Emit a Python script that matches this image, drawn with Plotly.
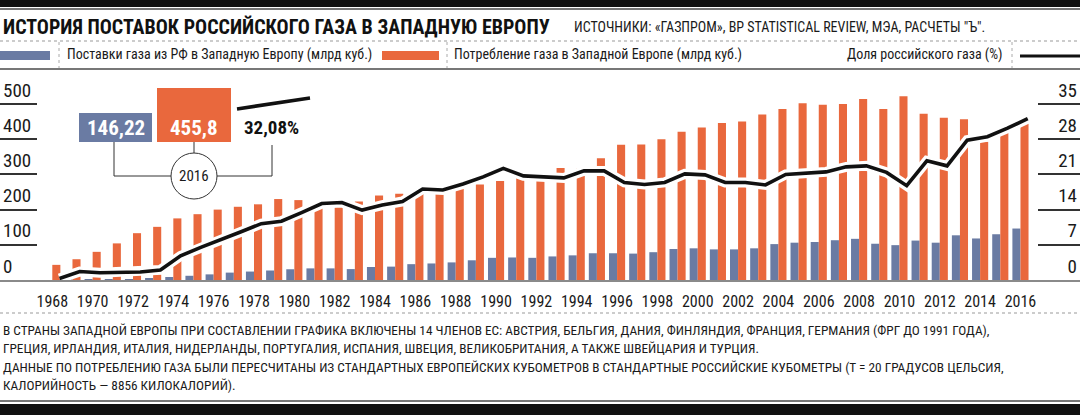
# Russian gas supplies to Western Europe, 1968-2016
import plotly.graph_objects as go

years = list(range(1968, 2017))

# supplies from Russia to Western Europe, bcm (blue bars)
supply = [0, 0.5, 1.2, 1.7, 2.1, 3, 8.5, 12, 16, 21,
          24, 27, 30.5, 33, 33, 31, 37, 38, 45, 47,
          50, 56, 63, 64, 63, 67, 70, 76, 76, 75,
          79, 88, 90, 87, 87, 90, 102, 106, 108, 113,
          117, 103, 99, 112, 106, 127, 118, 130, 146.22]

# gas consumption in Western Europe, bcm (orange bars)
consumption = [43, 59, 80, 104, 133, 151, 175, 187, 200, 208,
               215, 230, 227, 212, 212, 223, 240, 245, 244, 250,
               259, 271, 281, 295, 292, 318, 318, 346, 384, 385,
               400, 421, 433, 446, 450, 470, 486, 502, 498, 500,
               514, 486, 522, 472, 461, 457, 393, 418, 445]

# share of Russian gas, % (black line)
share = [0.3, 1.7, 1.45, 1.6, 1.6, 2.0, 4.8, 6.5, 8.0, 9.6,
         11.2, 11.7, 13.4, 15.2, 15.4, 13.9, 14.9, 15.6, 18.1, 17.9,
         19.1, 20.5, 22.2, 20.7, 20.5, 20.3, 21.7, 21.7, 19.4, 19.0,
         19.4, 21.1, 20.9, 19.4, 19.4, 18.9, 21.0, 21.3, 21.5, 22.5,
         22.7, 21.4, 18.75, 23.7, 22.7, 27.8, 28.5, 30.2, 32.08]

left_ticks = [0, 100, 200, 300, 400, 500]
right_ticks = [0, 7, 14, 21, 28, 35]
x_ticks = list(range(1968, 2017, 2))

# numbers printed in the 2016 callout
callout_year = "2016"
callout_supply = 146.22
callout_consumption = 455.8
callout_share = 32.08

BLUE = "#6a7ba3"
ORANGE = "#e9683d"
FONT = "Liberation Sans Narrow, Roboto Condensed, DejaVu Sans Condensed, Arial Narrow, sans-serif"
W, H = 1080, 415

# plot area in pixels
PLOT_TOP, PLOT_BOTTOM = 70, 280
PX_PER_UNIT = 176 / 500          # left axis: 500 bcm = 176 px
PX_PER_YEAR = 20.17
FIRST_YEAR_PX = 52.3
LINE_SHIFT = 0.36                # line vertices sit on the right edge of the orange bar

y_max = (PLOT_BOTTOM - PLOT_TOP) / PX_PER_UNIT
x_lo = years[0] - FIRST_YEAR_PX / PX_PER_YEAR
x_hi = x_lo + W / PX_PER_YEAR


def px(x):
    return x / W


def py(y):
    return 1 - y / H


def comma(v):
    return f"{v}".replace(".", ",")


fig = go.Figure()
fig.add_trace(go.Bar(x=years, y=supply, marker_color=BLUE, marker_line_width=0))
fig.add_trace(go.Bar(x=years, y=consumption, marker_color=ORANGE, marker_line_width=0))
line_x = [y + LINE_SHIFT for y in years]
fig.add_trace(go.Scatter(x=line_x, y=share, yaxis="y2", mode="lines",
                         line=dict(color="white", width=10)))
fig.add_trace(go.Scatter(x=line_x, y=share, yaxis="y2", mode="lines",
                         line=dict(color="#111111", width=3.6)))

shapes = []
annotations = []


def hline(y, x0=0, x1=W, color="#888888", width=1, dash="solid"):
    shapes.append(dict(type="line", xref="paper", yref="paper",
                       x0=px(x0), x1=px(x1), y0=py(y), y1=py(y),
                       line=dict(color=color, width=width, dash=dash)))


def vline(x, y0, y1, color="#888888", width=1, dash="solid"):
    shapes.append(dict(type="line", xref="paper", yref="paper",
                       x0=px(x), x1=px(x), y0=py(y0), y1=py(y1),
                       line=dict(color=color, width=width, dash=dash)))


def rect(x0, y0, x1, y1, color, line_color=None):
    shapes.append(dict(type="rect", xref="paper", yref="paper",
                       x0=px(x0), x1=px(x1), y0=py(y0), y1=py(y1),
                       fillcolor=color, line=dict(width=0 if line_color is None else 1,
                                                  color=line_color or color)))


def text(x, y, s, size=13, color="#1a1a1a", anchor="left", bold=False):
    if bold:
        s = f"<b>{s}</b>"
    annotations.append(dict(x=px(x), y=py(y), xref="paper", yref="paper", text=s,
                            showarrow=False, xanchor=anchor, yanchor="middle",
                            font=dict(family=FONT, size=size, color=color)))


# frame: black bands and rules
rect(0, 0, W, 7, "#111111")
hline(9, color="#777777", width=2)
text(1, 27, "ИСТОРИЯ ПОСТАВОК РОССИЙСКОГО ГАЗА В ЗАПАДНУЮ ЕВРОПУ", size=20, bold=True, color="#111111")
text(572, 27, "ИСТОЧНИКИ: «ГАЗПРОМ», BP STATISTICAL REVIEW, МЭА, РАСЧЕТЫ \"Ъ\".", size=14)
hline(41, color="#999999", dash="dot")
hline(69, color="#777777", width=2)

# legend row
rect(0, 51, 50, 60, BLUE)
vline(59, 42, 68, color="#aaaaaa", dash="dot")
text(65, 55, "Поставки газа из РФ в Западную Европу (млрд куб.)", size=14)
rect(382, 51, 439, 60, ORANGE)
vline(447, 42, 68, color="#aaaaaa", dash="dot")
text(452, 55, "Потребление газа в Западной Европе (млрд куб.)", size=14)
text(1005, 55, "Доля российского газа (%)", size=14, anchor="right")
vline(1012, 42, 68, color="#aaaaaa", dash="dot")
hline(56, 1020, W, color="#111111", width=3)

# 2016 callout
vline(114, 142, 176, color="#333333")
hline(176, 114, 171, color="#333333")
vline(194, 142, 153, color="#333333")
vline(272, 145, 176, color="#333333")
hline(176, 217, 272, color="#333333")
shapes.append(dict(type="circle", xref="paper", yref="paper",
                   x0=px(171), x1=px(217), y0=py(153), y1=py(199),
                   fillcolor="white", line=dict(color="#333333", width=1)))
rect(79, 113, 152, 142, BLUE)
rect(157, 88, 231, 142, ORANGE)
text(115.5, 128, comma(callout_supply), size=21, color="white", anchor="center", bold=True)
text(194, 128, comma(callout_consumption), size=21, color="white", anchor="center", bold=True)
shapes.append(dict(type="line", xref="paper", yref="paper",
                   x0=px(237), y0=py(109), x1=px(310), y1=py(98),
                   line=dict(color="#111111", width=3.6)))
text(242, 128, comma(callout_share) + "%", size=19, anchor="left", bold=True, color="#111111")
text(194, 176, callout_year, size=15, anchor="center")

# notes
hline(313, color="#999999", dash="dot")
notes = [
    "В СТРАНЫ ЗАПАДНОЙ ЕВРОПЫ ПРИ СОСТАВЛЕНИИ ГРАФИКА ВКЛЮЧЕНЫ 14 ЧЛЕНОВ ЕС: АВСТРИЯ, БЕЛЬГИЯ, ДАНИЯ, ФИНЛЯНДИЯ, ФРАНЦИЯ, ГЕРМАНИЯ (ФРГ ДО 1991 ГОДА),",
    "ГРЕЦИЯ, ИРЛАНДИЯ, ИТАЛИЯ, НИДЕРЛАНДЫ, ПОРТУГАЛИЯ, ИСПАНИЯ, ШВЕЦИЯ, ВЕЛИКОБРИТАНИЯ, А ТАКЖЕ ШВЕЙЦАРИЯ И ТУРЦИЯ.",
    "ДАННЫЕ ПО ПОТРЕБЛЕНИЮ ГАЗА БЫЛИ ПЕРЕСЧИТАНЫ ИЗ СТАНДАРТНЫХ ЕВРОПЕЙСКИХ КУБОМЕТРОВ В СТАНДАРТНЫЕ РОССИЙСКИЕ КУБОМЕТРЫ (Т = 20 ГРАДУСОВ ЦЕЛЬСИЯ,",
    "КАЛОРИЙНОСТЬ — 8856 КИЛОКАЛОРИЙ).",
]
for note, y in zip(notes, [330, 348, 367, 385]):
    text(1, y, note, size=13.3)
hline(401, color="#777777", width=2)
rect(0, 404, W, H, "#111111")

fig.update_layout(
    width=W, height=H,
    margin=dict(l=0, r=0, t=0, b=0),
    paper_bgcolor="white", plot_bgcolor="white",
    showlegend=False,
    barmode="group", bargap=0.2, bargroupgap=0,
    font=dict(family=FONT, color="#1a1a1a"),
    xaxis=dict(domain=[0, 1], range=[x_lo, x_hi], tickvals=x_ticks,
               ticks="", showgrid=False, zeroline=False,
               showline=True, linecolor="#8a8a8a", linewidth=2,
               ticklabelstandoff=6, tickfont=dict(size=16, color="#1a1a1a")),
    yaxis=dict(domain=[py(PLOT_BOTTOM), py(PLOT_TOP)], range=[0, y_max],
               tickvals=left_ticks, ticks="inside", ticklen=37, tickwidth=1.5,
               tickcolor="#333333", ticklabelposition="inside top",
               showgrid=False, zeroline=False, showline=False,
               tickfont=dict(size=19, color="#1a1a1a")),
    yaxis2=dict(overlaying="y", side="right", range=[0, y_max * 35 / 500],
                tickvals=right_ticks, ticks="inside", ticklen=42, tickwidth=1.5,
                tickcolor="#333333", ticklabelposition="inside top",
                showgrid=False, zeroline=False, showline=False,
                tickfont=dict(size=19, color="#1a1a1a")),
    shapes=shapes,
    annotations=annotations,
)

# the page's default body margin would push the 1080x415 figure off the window
fig.write_html("out.html", config={"displayModeBar": False},
               post_script="document.body.style.margin='0';")
